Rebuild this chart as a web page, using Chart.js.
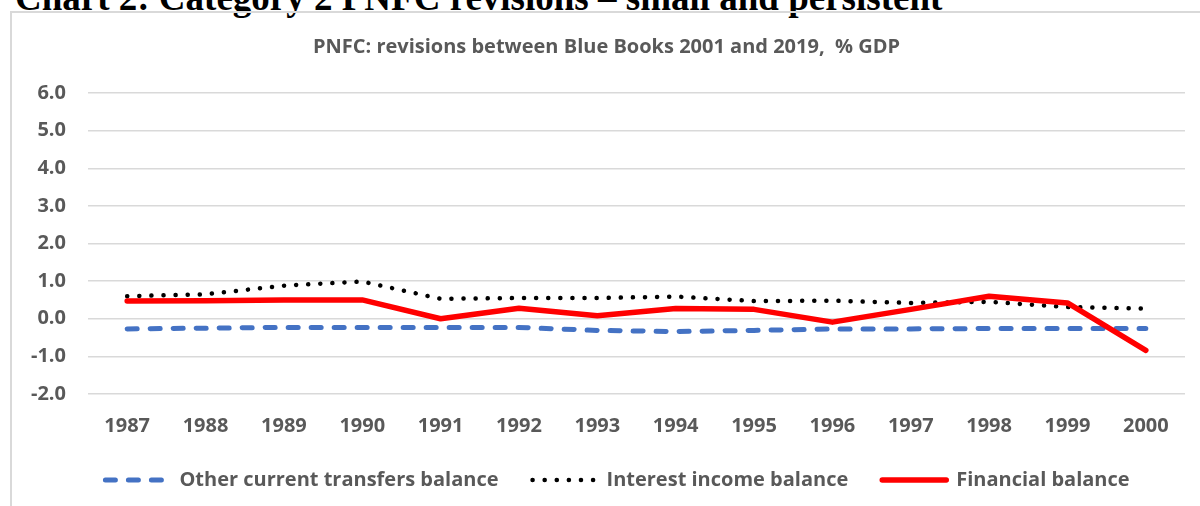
<!DOCTYPE html>
<html>
<head>
<meta charset="utf-8">
<script src="https://cdn.jsdelivr.net/npm/chart.js@4.4.1/dist/chart.umd.min.js"></script>
<style>
  html, body { margin:0; padding:0; background:#fff; width:1200px; height:506px; overflow:hidden; }
  #page-title {
    position:absolute; left:15px; top:-21px; white-space:nowrap; line-height:1;
    font-family:'Liberation Serif','Times New Roman',serif; font-weight:bold; font-size:37px; color:#000;
  }
  #chart-box {
    position:absolute; left:10px; top:11px; width:1200px; height:520px;
    border-left:2px solid #d9d9d9; border-top:2px solid #d9d9d9;
  }
  #chart { position:absolute; left:0; top:0; }
</style>
</head>
<body>
<div id="page-title">Chart 2: Category 2 PNFC revisions – small and persistent</div>
<div id="chart-box"></div>
<canvas id="chart" width="1200" height="506"></canvas>
<script>
// ── Data ──────────────────────────────────────────────────────
const years = ['1987','1988','1989','1990','1991','1992','1993','1994','1995','1996','1997','1998','1999','2000'];

const otherTransfers   = [-0.27,-0.25,-0.23,-0.23,-0.23,-0.23,-0.31,-0.34,-0.31,-0.27,-0.27,-0.26,-0.26,-0.26];
const interestIncome   = [ 0.60, 0.65, 0.88, 0.99, 0.53, 0.55, 0.55, 0.59, 0.47, 0.48, 0.42, 0.45, 0.31, 0.27];
const financialBalance = [ 0.47, 0.48, 0.50, 0.50, 0.00, 0.28, 0.08, 0.27, 0.25,-0.09, 0.25, 0.60, 0.42,-0.84];

const yTicks = [-2, -1, 0, 1, 2, 3, 4, 5, 6];

const GREY = '#595959';
const FONT = "'Open Sans', 'Liberation Sans', sans-serif";

// legend samples should use the dataset's line style, not the point style
function legendLabels(chart) {
  const base = Chart.defaults.plugins.legend.labels.generateLabels(chart);
  return base.map(item => {
    const ds = chart.data.datasets[item.datasetIndex];
    item.lineDash    = ds.borderDash || [];
    item.lineCap     = ds.borderCapStyle;
    item.lineWidth   = ds.borderWidth;
    item.strokeStyle = ds.borderColor;
    return item;
  });
}

// the legend's label padding is wide (item spacing), so lift the row a bit
const legendLift = {
  id: 'legendLift',
  afterLayout(chart) {
    const lg = chart.legend;
    lg.top    -= 14;
    lg.bottom -= 14;
    lg.left   += 11;
    lg.right  += 11;
  }
};

// ── Chart ─────────────────────────────────────────────────────
new Chart(document.getElementById('chart'), {
  type: 'line',
  data: {
    labels: years,
    datasets: [
      {
        label:          'Other current transfers balance',
        data:           otherTransfers,
        borderColor:    '#4472c4',
        backgroundColor:'#4472c4',
        borderWidth:    5,
        borderDash:     [10, 13],
        borderCapStyle: 'round',
        order:          2,
      },
      {
        label:          'Interest income balance',
        data:           interestIncome,
        borderColor:    '#000000',
        backgroundColor:'#000000',
        borderWidth:    4.5,
        borderDash:     [0.1, 12],
        borderCapStyle: 'round',
        order:          1,
      },
      {
        label:          'Financial balance',
        data:           financialBalance,
        borderColor:    '#ff0000',
        backgroundColor:'#ff0000',
        borderWidth:    5.5,
        borderCapStyle: 'round',
        order:          0,
      },
    ]
  },
  plugins: [legendLift],
  options: {
    responsive: false,
    animation: false,
    elements: {
      point: { radius: 0, hoverRadius: 0 },
      line:  { tension: 0, borderJoinStyle: 'round' },
    },
    layout: { padding: { left: 28, right: 15, top: 0, bottom: -8 } },
    plugins: {
      tooltip: { enabled: false },
      title: {
        display: true,
        text: 'PNFC: revisions between Blue Books 2001 and 2019,  % GDP',
        color: GREY,
        font: { family: FONT, size: 20, weight: 'bold' },
        padding: { top: 35, bottom: 34 },
      },
      legend: {
        position: 'bottom',
        labels: {
          usePointStyle:   true,
          pointStyle:      'line',
          pointStyleWidth: 64,
          color:           GREY,
          font:            { family: FONT, size: 20, weight: 'bold' },
          padding:         34,
          sort:            (a, b) => a.datasetIndex - b.datasetIndex,
          generateLabels:  legendLabels,
        }
      }
    },
    scales: {
      x: {
        offset: true,
        grid:   { display: false, offset: true },
        border: { display: false },
        ticks:  { color: GREY, font: { family: FONT, size: 20, weight: 'bold' }, padding: 12, maxRotation: 0 },
      },
      y: {
        min: yTicks[0],
        max: yTicks[yTicks.length - 1],
        afterFit: s => { s.width = 60; },
        afterBuildTicks: s => { s.ticks = yTicks.map(v => ({ value: v })); },
        grid:   { color: '#d9d9d9', lineWidth: 1.5, drawTicks: false },
        border: { display: false },
        ticks:  {
          color: GREY, padding: 22,
          font: { family: FONT, size: 20, weight: 'bold' },
          callback: v => v.toFixed(1),
        },
      }
    }
  }
});
</script>
</body>
</html>
